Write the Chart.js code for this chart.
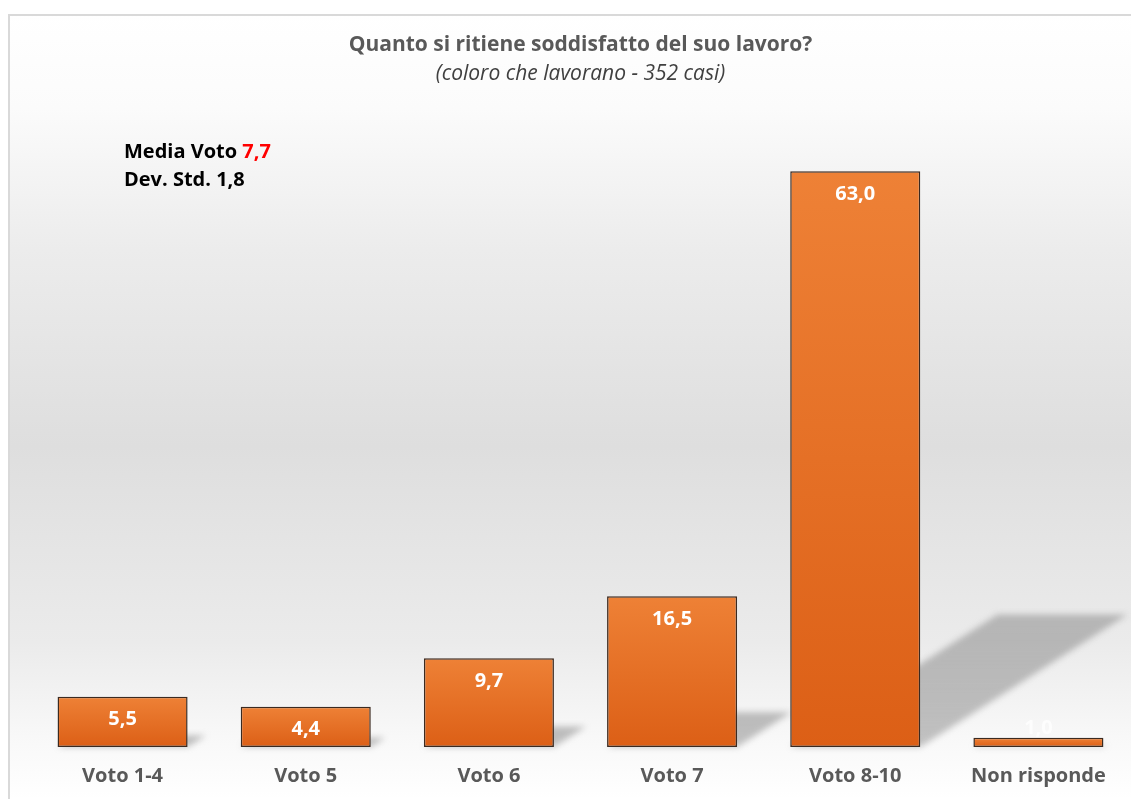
<!DOCTYPE html>
<html>
<head>
<meta charset="utf-8">
<script src="https://cdn.jsdelivr.net/npm/chart.js@4.4.1/dist/chart.umd.min.js"></script>
<style>
  html, body { margin: 0; padding: 0; background: #ffffff; }
  #wrap { position: absolute; left: 0; top: 0; width: 1131px; height: 799px; }
</style>
</head>
<body>
<div id="wrap"><canvas id="satisfactionChart" width="1131" height="799"></canvas></div>
<script>
// categories and values
var categories = ["Voto 1-4", "Voto 5", "Voto 6", "Voto 7", "Voto 8-10", "Non risponde"];
var percentages = [5.5, 4.4, 9.7, 16.5, 63.0, 1.0];

var titleText = "Quanto si ritiene soddisfatto del suo lavoro?";
var subtitleText = "(coloro che lavorano - 352 casi)";
var mediaVoto = "7,7";
var devStd = "1,8";

var FONT = "'Open Sans', Lato, sans-serif";

function fmt(v) {
    return v.toFixed(1).replace('.', ',');
}

// grey gradient panel with thin frame behind everything
var backgroundPlugin = {
    id: 'panel',
    beforeDraw: function (chart) {
        var ctx = chart.ctx;
        ctx.save();
        ctx.fillStyle = '#ffffff';
        ctx.fillRect(0, 0, chart.width, chart.height);
        var g = ctx.createLinearGradient(0, 14, 0, chart.height);
        g.addColorStop(0, '#ffffff');
        g.addColorStop(0.12, '#fbfbfb');
        g.addColorStop(0.3, '#ececec');
        g.addColorStop(0.55, '#dedede');
        g.addColorStop(0.8, '#ebebeb');
        g.addColorStop(0.92, '#f8f8f8');
        g.addColorStop(1, '#ffffff');
        ctx.fillStyle = g;
        ctx.fillRect(9, 15, chart.width - 9, chart.height - 15);
        ctx.strokeStyle = '#d9d9d9';
        ctx.lineWidth = 2;
        ctx.beginPath();
        ctx.moveTo(9, chart.height);
        ctx.lineTo(9, 15);
        ctx.lineTo(chart.width, 15);
        ctx.stroke();
        ctx.restore();
    }
};

// skewed drop shadows cast to the upper right of each bar
var shadowPlugin = {
    id: 'barShadows',
    beforeDatasetsDraw: function (chart) {
        var ctx = chart.ctx;
        var meta = chart.getDatasetMeta(0);
        ctx.save();
        meta.data.forEach(function (bar) {
            var half = bar.width / 2;
            var h = bar.base - bar.y;
            var dx = h * 0.36;
            var dy = h * 0.23;
            var x1 = bar.x - half, x2 = bar.x + half;
            var g = ctx.createLinearGradient(0, bar.base, 0, bar.base - dy);
            g.addColorStop(0, 'rgba(110,110,110,0.4)');
            g.addColorStop(1, 'rgba(140,140,140,0.55)');
            ctx.fillStyle = g;
            ctx.filter = 'blur(3px)';
            ctx.beginPath();
            ctx.moveTo(x1, bar.base);
            ctx.lineTo(x2, bar.base);
            ctx.lineTo(x2 + dx, bar.base - dy);
            ctx.lineTo(x1 + dx, bar.base - dy);
            ctx.closePath();
            ctx.fill();
        });
        ctx.restore();
    }
};

// value labels and the mean / std annotation
var labelPlugin = {
    id: 'valueLabels',
    afterDatasetsDraw: function (chart) {
        var ctx = chart.ctx;
        var meta = chart.getDatasetMeta(0);
        ctx.save();
        ctx.textAlign = 'center';
        ctx.textBaseline = 'middle';
        ctx.font = 'bold 20px ' + FONT;
        meta.data.forEach(function (bar, i) {
            var h = bar.base - bar.y;
            if (h > 30) {
                ctx.fillStyle = '#ffffff';
                ctx.fillText(fmt(percentages[i]), bar.x, bar.y + 23);
            } else {
                ctx.fillStyle = 'rgba(255,255,255,0.75)';
                ctx.fillText(fmt(percentages[i]), bar.x, bar.y - 10);
            }
        });

        ctx.textAlign = 'left';
        ctx.font = 'bold 20px ' + FONT;
        ctx.fillStyle = '#000000';
        var lead = 'Media Voto ';
        ctx.fillText(lead, 124, 152);
        ctx.fillStyle = '#ff0000';
        ctx.fillText(mediaVoto, 124 + ctx.measureText(lead).width, 152);
        ctx.fillStyle = '#000000';
        ctx.fillText('Dev. Std. ' + devStd, 124, 180);
        ctx.restore();
    }
};

var ctx = document.getElementById('satisfactionChart').getContext('2d');
var satisfactionChart = new Chart(ctx, {
    type: 'bar',
    data: {
        labels: categories,
        datasets: [{
            data: percentages,
            backgroundColor: function (context) {
                var chart = context.chart;
                var y = chart.scales.y;
                if (!chart.chartArea || !y) return '#e8732a';
                var top = y.getPixelForValue(context.raw);
                var base = y.getPixelForValue(0);
                var g = chart.ctx.createLinearGradient(0, top, 0, base);
                g.addColorStop(0, '#ee8136');
                g.addColorStop(1, '#dc5f16');
                return g;
            },
            borderColor: '#3b2a20',
            borderWidth: 1.5,
            borderSkipped: false,
            barPercentage: 0.71,
            categoryPercentage: 1.0
        }]
    },
    options: {
        responsive: false,
        animation: false,
        layout: {
            padding: { left: 31, right: 1, top: 18, bottom: 2 }
        },
        scales: {
            x: {
                grid: { display: false },
                border: { display: false },
                ticks: {
                    color: '#595959',
                    font: { family: FONT, size: 20, weight: 'bold' },
                    padding: 9
                }
            },
            y: {
                display: false,
                min: 0,
                max: 70
            }
        },
        plugins: {
            legend: { display: false },
            tooltip: { enabled: false },
            title: {
                display: true,
                text: titleText,
                color: '#595959',
                font: { family: FONT, size: 21, weight: 'bold' },
                padding: { top: 14, bottom: 4 }
            },
            subtitle: {
                display: true,
                text: subtitleText,
                color: '#404040',
                font: { family: FONT, size: 21, style: 'italic' },
                padding: { top: 0, bottom: 21 }
            }
        }
    },
    plugins: [backgroundPlugin, shadowPlugin, labelPlugin]
});
</script>
</body>
</html>
